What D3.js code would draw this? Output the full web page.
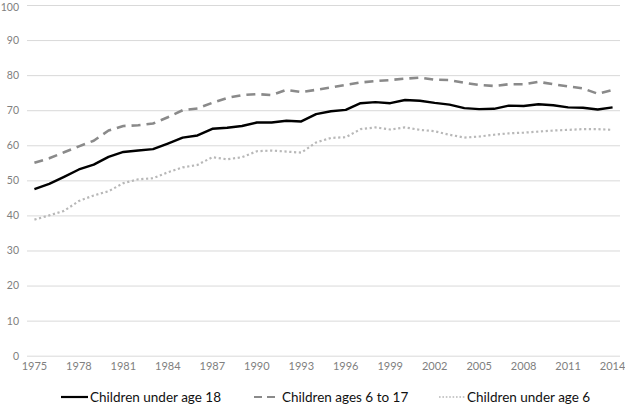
<!DOCTYPE html>
<html>
<head>
<meta charset="utf-8">
<script src="https://cdn.jsdelivr.net/npm/d3@7"></script>
<style>
  html, body { margin: 0; padding: 0; background: #fff; }
  svg { display: block; }
  .tick text { font-family: Lato, "Open Sans", sans-serif; font-size: 11px; fill: #808080; }
  .yaxis .tick text { font-size: 10.5px; }
  .legend text { font-family: Lato, "Open Sans", sans-serif; font-size: 13.5px; fill: #111; }
</style>
</head>
<body>
<svg id="chart" width="625" height="407"></svg>
<script>
const years = ["1975","1976","1977","1978","1979","1980","1981","1982","1983","1984",
  "1985","1986","1987","1988","1989","1990","1991","1992","1993","1994",
  "1995","1996","1997","1998","1999","2000","2001","2002","2003","2004",
  "2005","2006","2007","2008","2009","2010","2011","2012","2013","2014"];
const under18 = [47.5, 49.0, 51.0, 53.1, 54.5, 56.7, 58.1, 58.5, 58.9, 60.5,
  62.2, 62.8, 64.7, 65.0, 65.5, 66.5, 66.5, 67.0, 66.8, 68.9,
  69.7, 70.1, 72.0, 72.3, 72.0, 72.9, 72.7, 72.1, 71.6, 70.6,
  70.3, 70.4, 71.3, 71.2, 71.7, 71.4, 70.8, 70.7, 70.2, 70.8];
const ages6to17 = [55.0, 56.3, 58.0, 59.7, 61.3, 64.2, 65.5, 65.7, 66.2, 68.0,
  70.0, 70.5, 72.1, 73.5, 74.3, 74.6, 74.3, 75.8, 75.2, 75.8,
  76.5, 77.2, 77.9, 78.3, 78.6, 79.0, 79.3, 78.7, 78.6, 77.8,
  77.2, 76.9, 77.4, 77.4, 78.1, 77.4, 76.8, 76.2, 74.7, 75.8];
const under6 = [38.8, 40.0, 41.3, 44.1, 45.7, 46.9, 49.2, 50.3, 50.6, 52.3,
  53.7, 54.4, 56.6, 56.0, 56.6, 58.3, 58.5, 58.2, 57.9, 60.8,
  62.1, 62.3, 64.6, 65.1, 64.5, 65.1, 64.4, 64.0, 63.0, 62.2,
  62.5, 63.0, 63.4, 63.6, 63.9, 64.2, 64.4, 64.6, 64.6, 64.4];
const xTickLabels = ["1975","1978","1981","1984","1987","1990","1993","1996","1999","2002","2005","2008","2011","2014"];
const yTicks = [0,10,20,30,40,50,60,70,80,90,100];
const seriesNames = ["Children under age 18", "Children ages 6 to 17", "Children under age 6"];

const svg = d3.select("#chart");
const plotLeft = 27, plotRight = 620, plotTop = 5, plotBottom = 355.7;

const x = d3.scaleBand().domain(years).range([plotLeft, plotRight]);
const y = d3.scaleLinear().domain([0, 100]).range([plotBottom, plotTop]);
const cx = d => x(d) + x.bandwidth() / 2;

// Y axis with gridlines
const yAxis = svg.append("g")
  .attr("class", "yaxis")
  .attr("transform", `translate(${plotLeft},0)`)
  .call(d3.axisLeft(y).tickValues(yTicks).tickSize(-(plotRight - plotLeft)).tickPadding(8));
yAxis.select(".domain").remove();
yAxis.selectAll(".tick line").attr("stroke", "#d9d9d9").attr("stroke-width", 1);
yAxis.selectAll(".tick text").filter(d => d === 100).attr("dy", "0.5em");

// X axis labels
const xAxis = svg.append("g")
  .attr("transform", `translate(0,${plotBottom})`)
  .call(d3.axisBottom(x).tickValues(xTickLabels).tickSize(0).tickPadding(7));
xAxis.select(".domain").remove();

const styles = [
  { data: under18, stroke: "#000000", width: 2.4, dash: null },
  { data: ages6to17, stroke: "#8a8a8a", width: 2.6, dash: "9,6" },
  { data: under6, stroke: "#b8b8b8", width: 2.2, dash: "2.2,2.6" }
];

const line = d3.line().x((d, i) => cx(years[i])).y(d => y(d)).curve(d3.curveLinear);

[2, 1, 0].forEach(k => {
  const s = styles[k];
  svg.append("path")
    .datum(s.data)
    .attr("fill", "none")
    .attr("stroke", s.stroke)
    .attr("stroke-width", s.width)
    .attr("stroke-linejoin", "round")
    .attr("stroke-dasharray", s.dash)
    .attr("d", line);
});

// Legend
const legendItems = [
  { x0: 61, x1: 88, tx: 90 },
  { x0: 254, x1: 280, tx: 282 },
  { x0: 439, x1: 465, tx: 467 }
];
const lg = svg.append("g").attr("class", "legend");
legendItems.forEach((it, k) => {
  const s = styles[k];
  lg.append("line")
    .attr("x1", it.x0).attr("x2", it.x1)
    .attr("y1", 397).attr("y2", 397)
    .attr("stroke", s.stroke)
    .attr("stroke-width", k === 2 ? 1.5 : 2.2)
    .attr("stroke-dasharray", k === 1 ? "8,5" : (k === 2 ? "1.6,1.8" : null));
  lg.append("text")
    .attr("x", it.tx).attr("y", 397)
    .attr("dy", "0.35em")
    .text(seriesNames[k]);
});
</script>
</body>
</html>
